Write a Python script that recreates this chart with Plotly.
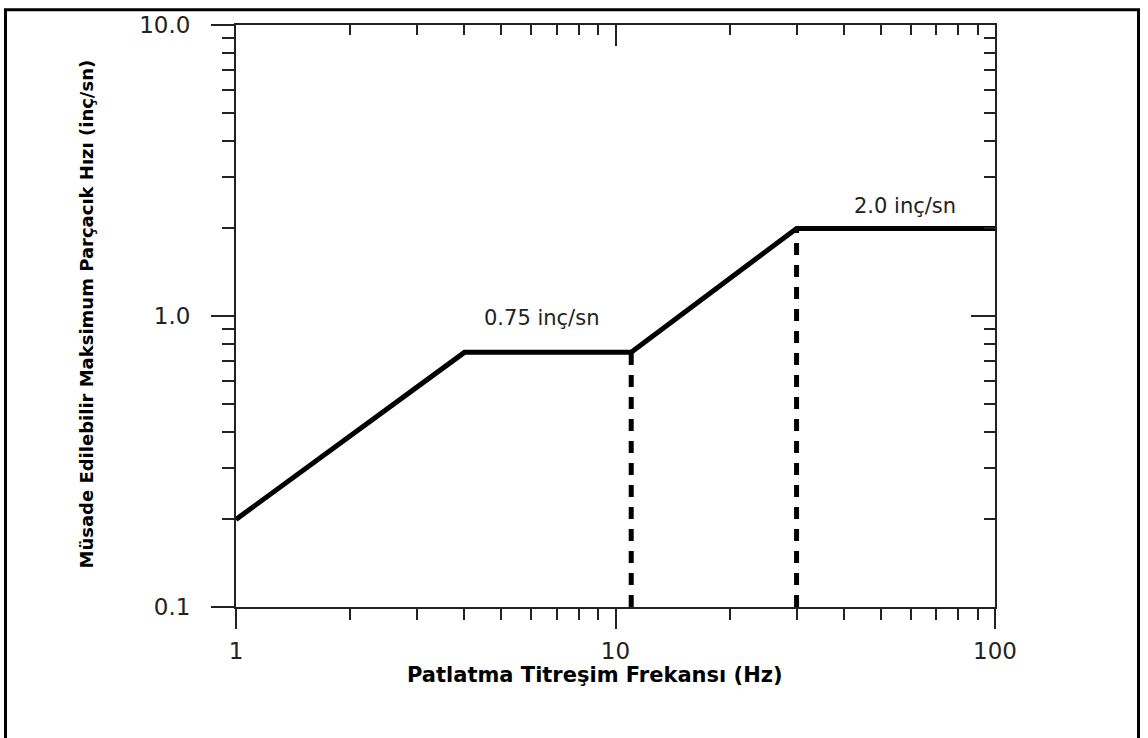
import math
import plotly.graph_objects as go

# Data
freq_hz = [1, 4, 11, 30, 100]
ppv_ips = [0.2, 0.75, 0.75, 2.0, 2.0]
dash_freqs = [11, 30]
dash_tops = [0.75, 2.0]
y_floor = 0.1
ann_texts = ["0.75 inç/sn", "2.0 inç/sn"]
ann_x = [6.4, 58]
ann_y = [0.75, 2.0]
ann_shift = [34, 22]
x_ticks = [1, 10, 100]
x_ticklabels = ["1", "10", "100"]
y_ticks = [0.1, 1, 10]
y_ticklabels = ["0.1", "1.0", "10.0"]
x_minor = [2, 3, 4, 5, 6, 7, 8, 9, 20, 30, 40, 50, 60, 70, 80, 90]
y_minor = [0.2, 0.3, 0.4, 0.5, 0.6, 0.7, 0.8, 0.9, 2, 3, 4, 5, 6, 7, 8, 9]
x_title = "Patlatma Titreşim Frekansı (Hz)"
y_title = "Müsade Edilebilir Maksimum Parçacık Hızı (inç/sn)"

W, H = 1148, 738
L, R, T, B = 236, 153, 20, 131
pw, ph = W - L - R, H - T - B

AX = "#222222"
tickfont = dict(family="DejaVu Sans", size=23, color="#222222")

fig = go.Figure()
fig.add_trace(go.Scatter(x=freq_hz, y=ppv_ips, mode="lines",
                         line=dict(color="black", width=5), showlegend=False,
                         hoverinfo="skip"))
# dashed drop lines drawn on the overlay axes (same ranges) so those axes render
for xf, yt in zip(dash_freqs, dash_tops):
    fig.add_trace(go.Scatter(x=[xf, xf], y=[y_floor, yt], mode="lines",
                             xaxis="x2", yaxis="y2",
                             line=dict(color="black", width=5, dash="12px,10px"),
                             showlegend=False, hoverinfo="skip"))

for t, x, y, s in zip(ann_texts, ann_x, ann_y, ann_shift):
    fig.add_annotation(x=math.log10(x), y=math.log10(y), xref="x", yref="y", text=t,
                       showarrow=False, xanchor="center", yanchor="middle", yshift=s,
                       font=dict(family="DejaVu Sans", size=21, color="#222222"))

# Axis titles as annotations
fig.add_annotation(x=(595 - L) / pw, y=(H - 676 - B) / ph, xref="paper", yref="paper",
                   xanchor="center", yanchor="middle",
                   text=x_title, showarrow=False,
                   font=dict(family="DejaVu Sans", size=21, color="black", weight="bold"))
fig.add_annotation(x=(87 - L) / pw, y=(H - 312 - B) / ph, xref="paper", yref="paper",
                   xanchor="center", yanchor="middle",
                   text=y_title, showarrow=False, textangle=-90,
                   font=dict(family="DejaVu Sans", size=18, color="black", weight="bold"))

# Outer frame
fig.add_shape(type="rect", xref="paper", yref="paper",
              x0=(5.5 - L) / pw, x1=(1138.5 - L) / pw,
              y0=(H - 745 - B) / ph, y1=(H - 4.5 - B) / ph,
              line=dict(color="black", width=3), fillcolor="rgba(0,0,0,0)", layer="below")

fig.update_layout(
    width=W, height=H,
    margin=dict(l=L, r=R, t=T, b=B),
    paper_bgcolor="white", plot_bgcolor="white",
    showlegend=False,
    xaxis=dict(type="log", range=[0, 2], tickvals=x_ticks, ticktext=x_ticklabels,
               ticks="outside", ticklen=20, tickwidth=2, tickcolor=AX,
               showline=True, linecolor=AX, linewidth=2, showgrid=False, zeroline=False,
               tickfont=tickfont, ticklabelstandoff=2,
               minor=dict(tickvals=x_minor, ticks="outside", ticklen=11,
                          tickwidth=2, tickcolor=AX, showgrid=False)),
    yaxis=dict(type="log", range=[-1, 1], tickvals=y_ticks, ticktext=y_ticklabels,
               ticks="outside", ticklen=23, tickwidth=2, tickcolor=AX,
               showline=True, linecolor=AX, linewidth=2, showgrid=False, zeroline=False,
               tickfont=tickfont, ticklabelstandoff=16,
               minor=dict(tickvals=y_minor, ticks="outside", ticklen=12,
                          tickwidth=2, tickcolor=AX, showgrid=False)),
    xaxis2=dict(type="log", range=[0, 2], overlaying="x", side="top", anchor="y2",
                tickvals=x_ticks, showticklabels=False,
                ticks="inside", ticklen=21, tickwidth=2, tickcolor=AX,
                showline=True, linecolor=AX, linewidth=2, showgrid=False, zeroline=False,
                minor=dict(tickvals=x_minor, ticks="inside", ticklen=10,
                           tickwidth=2, tickcolor=AX, showgrid=False)),
    yaxis2=dict(type="log", range=[-1, 1], overlaying="y", side="right", anchor="x2",
                tickvals=y_ticks, showticklabels=False,
                ticks="inside", ticklen=24, tickwidth=2, tickcolor=AX,
                showline=True, linecolor=AX, linewidth=2, showgrid=False, zeroline=False,
                minor=dict(tickvals=y_minor, ticks="inside", ticklen=11,
                           tickwidth=2, tickcolor=AX, showgrid=False)),
)

fig.write_html("out.html")
